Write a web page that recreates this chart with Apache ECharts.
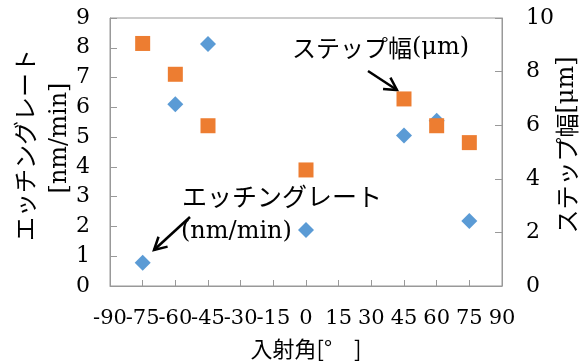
<!DOCTYPE html>
<html><head><meta charset="utf-8">
<script src="https://cdn.jsdelivr.net/npm/echarts@6/dist/echarts.min.js"></script>
<style>html,body{margin:0;padding:0;background:#fff}#c{width:584px;height:363px}</style>
</head><body><div id="c"></div>
<script>
const angles = [-75, -60, -45, 0, 45, 60, 75];
const etchRate = [0.78, 6.1, 8.13, 1.88, 5.05, 5.55, 2.18];
const stepWidth = [9.05, 7.9, 5.98, 4.33, 6.98, 5.98, 5.35];
const xTicks = {min: -90, max: 90, interval: 15};
const xTickLabels = ['-90', '-75', '-60', '-45', '-30', '-15', '0', '15', '30', '45', '60', '75', '90'];
const yLeftTicks = {min: 0, max: 9, interval: 1};
const yRightTicks = {min: 0, max: 10, interval: 2};

const serif = '"DejaVu Serif", serif';
const jp = '"Noto Sans CJK JP", sans-serif';
const chart = echarts.init(document.getElementById('c'));

function arrow(x1, y1, x2, y2, head) {
  const a = Math.atan2(y2 - y1, x2 - x1);
  const s = 0.5;
  const p1 = [x2 - head * Math.cos(a - s), y2 - head * Math.sin(a - s)];
  const p2 = [x2 - head * Math.cos(a + s), y2 - head * Math.sin(a + s)];
  return [
    {type: 'line', shape: {x1, y1, x2, y2}, style: {stroke: '#000', lineWidth: 2.5}},
    {type: 'polyline', shape: {points: [p1, [x2, y2], p2]}, style: {stroke: '#000', lineWidth: 2.5, fill: null}}
  ];
}
const rich = {
  j: {fontFamily: jp, fontSize: 24, color: '#000'},
  s: {fontFamily: serif, fontSize: 24, color: '#000'}
};
const axisCommon = {
  axisLine: {show: true, onZero: false, lineStyle: {color: '#999'}},
  axisTick: {show: true, inside: true, length: 7, lineStyle: {color: '#999'}},
  splitLine: {show: false}
};

chart.setOption({
  animation: false,
  grid: {left: 110, right: 82, top: 18, bottom: 77, outerBoundsMode: 'none', show: true, borderColor: '#999', borderWidth: 1},
  xAxis: [Object.assign({
    type: 'value', min: xTicks.min, max: xTicks.max, interval: xTicks.interval,
    axisLabel: {show: false},
    name: '入射角[°\u3000]', nameLocation: 'middle', nameGap: 52,
    nameTextStyle: {color: '#000', fontFamily: jp, fontSize: 22}
  }, axisCommon, {axisTick: {show: true, inside: true, length: 6, lineStyle: {color: '#999'}}}), {
    type: 'category', data: xTickLabels, boundaryGap: false, position: 'bottom',
    axisLine: {show: false}, axisTick: {show: false}, splitLine: {show: false},
    axisLabel: {interval: 0, hideOverlap: false, color: '#000', fontFamily: serif, fontSize: 21, margin: 22}
  }],
  yAxis: [Object.assign({
    type: 'value', min: yLeftTicks.min, max: yLeftTicks.max, interval: yLeftTicks.interval,
    axisLabel: {color: '#000', fontFamily: serif, fontSize: 22, margin: 20}
  }, axisCommon), Object.assign({
    type: 'value', min: yRightTicks.min, max: yRightTicks.max, interval: yRightTicks.interval,
    position: 'right',
    axisLabel: {color: '#000', fontFamily: serif, fontSize: 22, margin: 24}
  }, axisCommon)],
  series: [{
    name: 'エッチングレート(nm/min)', type: 'scatter', xAxisIndex: 0, yAxisIndex: 0,
    symbol: 'diamond', symbolSize: 16, itemStyle: {color: '#5B9BD5', opacity: 1}, z: 2,
    data: angles.map((a, i) => [a, etchRate[i]])
  }, {
    name: 'ステップ幅(μm)', type: 'scatter', xAxisIndex: 0, yAxisIndex: 1,
    symbol: 'rect', symbolSize: 15, itemStyle: {color: '#ED7D31', opacity: 1}, z: 3,
    data: angles.map((a, i) => [a, stepWidth[i]])
  }],
  graphic: [
    {type: 'text', x: 25, y: 145, rotation: Math.PI / 2, style: {text: 'エッチングレート', font: '24px ' + jp, fill: '#000', align: 'center', verticalAlign: 'middle'}},
    {type: 'text', x: 60, y: 138, rotation: Math.PI / 2, style: {text: '[nm/min]', font: '24px ' + serif, fill: '#000', align: 'center', verticalAlign: 'middle'}},
    {type: 'text', x: 567, y: 145, rotation: Math.PI / 2, style: {text: '{j|ステップ幅}{s|[μm]}', rich, align: 'center', verticalAlign: 'middle'}},
    {type: 'text', x: 292, y: 48, style: {text: '{j|ステップ幅}{s|(μm)}', rich, align: 'left', verticalAlign: 'middle'}},
    {type: 'text', x: 182, y: 196, style: {text: 'エッチングレート', font: '25px ' + jp, fill: '#000', align: 'left', verticalAlign: 'middle'}},
    {type: 'text', x: 181, y: 232, style: {text: '(nm/min)', font: '24px ' + serif, fill: '#000', align: 'left', verticalAlign: 'middle'}},
    ...arrow(368, 71, 397, 90, 14),
    ...arrow(190, 217, 154, 250, 14)
  ]
});
</script></body></html>
